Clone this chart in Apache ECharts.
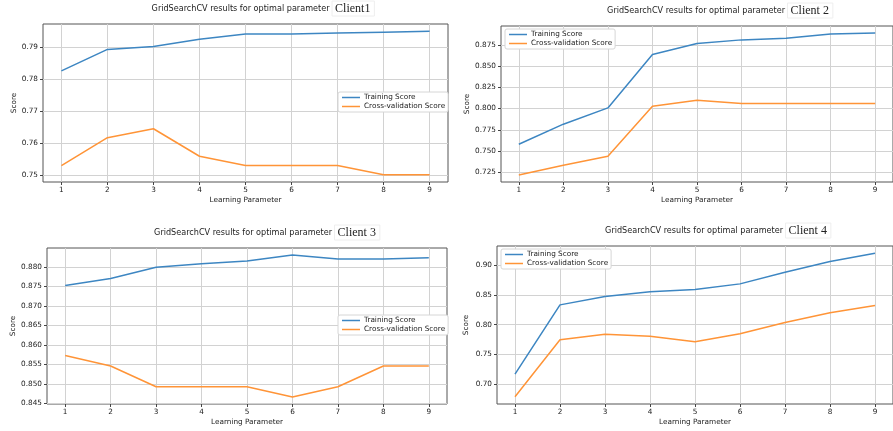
<!DOCTYPE html>
<html lang="en">
<head>
    <meta charset="UTF-8">
    <title>GridSearchCV</title>
    <script src="https://cdn.jsdelivr.net/npm/echarts@6/dist/echarts.min.js"></script>
</head>
<body style="margin: 0; background: #fff">
<div id="main" style="width: 893px; height: 431px;"></div>
<script>
    // 学习参数（横轴）
    var params = [1, 2, 3, 4, 5, 6, 7, 8, 9];
    // Client1
    var train1 = [0.7826, 0.7893, 0.7902, 0.7925, 0.7941, 0.7941, 0.7944, 0.7947, 0.7950];
    var cv1 = [0.7530, 0.7617, 0.7645, 0.7559, 0.7530, 0.7530, 0.7530, 0.7501, 0.7501];
    var ticks1 = [0.75, 0.76, 0.77, 0.78, 0.79];
    // Client 2
    var train2 = [0.7580, 0.7816, 0.8008, 0.8637, 0.8767, 0.8810, 0.8830, 0.8880, 0.8890];
    var cv2 = [0.7218, 0.7333, 0.7439, 0.8028, 0.8099, 0.8060, 0.8060, 0.8060, 0.8060];
    var ticks2 = [0.725, 0.750, 0.775, 0.800, 0.825, 0.850, 0.875];
    // Client 3
    var train3 = [0.8752, 0.8770, 0.8799, 0.8808, 0.8815, 0.8830, 0.8820, 0.8820, 0.8823];
    var cv3 = [0.8573, 0.8546, 0.8493, 0.8493, 0.8493, 0.8467, 0.8493, 0.8546, 0.8546];
    var ticks3 = [0.845, 0.850, 0.855, 0.860, 0.865, 0.870, 0.875, 0.880];
    // Client 4
    var train4 = [0.7173, 0.8331, 0.8471, 0.8549, 0.8588, 0.8682, 0.8877, 0.9056, 0.9195];
    var cv4 = [0.6794, 0.7747, 0.7841, 0.7808, 0.7713, 0.7847, 0.8036, 0.8198, 0.8320];
    var ticks4 = [0.70, 0.75, 0.80, 0.85, 0.90];

    var clients = ['Client1', 'Client 2', 'Client 3', 'Client 4'];
    var trains = [train1, train2, train3, train4];
    var cvs = [cv1, cv2, cv3, cv4];
    var ticks = [ticks1, ticks2, ticks3, ticks4];
    var decimals = [2, 3, 3, 2];

    // 每个子图的位置
    var grids = [
        {left: 43, top: 24, width: 405, height: 158},
        {left: 501, top: 26, right: -8, height: 156},
        {left: 47, top: 248, width: 400, height: 156},
        {left: 497, top: 246, right: -8, height: 158}
    ];
    var titlePos = [[263, 1], [720, 3], [267, 225], [718, 223]];
    var legendPos = [[338, 92], [505, 29], [338, 315], [501, 249]];
    var scoreGap = [25, 30, 30, 27];

    // matplotlib 式的自动范围（5% 边距）
    function range(a, b) {
        var lo = Math.min.apply(null, a.concat(b));
        var hi = Math.max.apply(null, a.concat(b));
        var m = (hi - lo) * 0.05;
        return [lo - m, hi + m];
    }

    var blue = '#3d86c2';
    var orange = '#ff9437';
    var font = 'DejaVu Sans';
    var fs = 7.3;

    var option = {
        backgroundColor: '#fff',
        animation: false,
        title: [],
        legend: [],
        grid: [],
        xAxis: [],
        yAxis: [],
        series: []
    };

    for (var i = 0; i < 4; i++) {
        var r = range(trains[i], cvs[i]);
        option.title.push({
            text: '{a|GridSearchCV results for optimal parameter }{b|' + clients[i] + '}',
            left: titlePos[i][0],
            top: titlePos[i][1],
            textAlign: 'center',
            padding: 0,
            textStyle: {
                fontWeight: 'normal',
                rich: {
                    a: {fontFamily: font, fontSize: 8.1, color: '#222', fontWeight: 'normal'},
                    b: {fontFamily: 'Liberation Serif', fontSize: 12, color: '#222', fontWeight: 'normal',
                        borderColor: '#eeeeee', borderWidth: 1, padding: [2, 4, 1, 3]}
                }
            }
        });
        option.legend.push({
            orient: 'vertical',
            left: legendPos[i][0],
            top: legendPos[i][1],
            data: ['Training Score', 'Cross-validation Score'],
            icon: 'rect',
            itemWidth: 18,
            itemHeight: 1.5,
            itemGap: 2,
            padding: [2, 3, 2, 4],
            backgroundColor: '#fff',
            borderColor: '#d6d6d6',
            borderWidth: 1,
            borderRadius: 2,
            selectedMode: false,
            textStyle: {fontFamily: font, fontSize: fs, color: '#222', padding: [0, 0, 0, -1]}
        });
        var g = grids[i];
        g.show = true;
        g.borderColor = '#555';
        g.borderWidth = 1;
        g.backgroundColor = 'transparent';
        option.grid.push(g);
        option.xAxis.push({
            type: 'value',
            gridIndex: i,
            min: 0.6,
            max: 9.4,
            name: 'Learning Parameter',
            nameLocation: 'middle',
            nameGap: 15,
            nameTextStyle: {fontFamily: font, fontSize: fs, color: '#222'},
            axisLine: {show: false},
            axisTick: {show: true, length: 3, lineStyle: {color: '#444'}, customValues: params},
            axisLabel: {fontFamily: font, fontSize: fs, color: '#222', margin: 5, customValues: params},
            splitLine: {show: true, lineStyle: {color: '#d2d2d2', width: 1}}
        });
        (function (d) {
            option.yAxis.push({
                type: 'value',
                gridIndex: i,
                min: r[0],
                max: r[1],
                name: 'Score',
                nameLocation: 'middle',
                nameGap: scoreGap[i],
                nameMoveOverlap: false,
                nameTextStyle: {fontFamily: font, fontSize: fs, color: '#222'},
                axisLine: {show: false},
                axisTick: {show: true, length: 3, lineStyle: {color: '#444'}, customValues: ticks[i]},
                axisLabel: {fontFamily: font, fontSize: fs, color: '#222', margin: 5, customValues: ticks[i],
                    formatter: function (v) { return v.toFixed(d); }},
                splitLine: {show: true, lineStyle: {color: '#d2d2d2', width: 1}}
            });
        })(decimals[i]);
        option.series.push({
            name: 'Training Score',
            type: 'line',
            xAxisIndex: i,
            yAxisIndex: i,
            showSymbol: false,
            color: blue,
            lineStyle: {width: 1.5},
            data: params.map(function (p, k) { return [p, trains[i][k]]; })
        });
        option.series.push({
            name: 'Cross-validation Score',
            type: 'line',
            xAxisIndex: i,
            yAxisIndex: i,
            showSymbol: false,
            color: orange,
            lineStyle: {width: 1.5},
            data: params.map(function (p, k) { return [p, cvs[i][k]]; })
        });
    }

    var chart = echarts.init(document.getElementById('main'));
    chart.setOption(option);
</script>
</body>
</html>
